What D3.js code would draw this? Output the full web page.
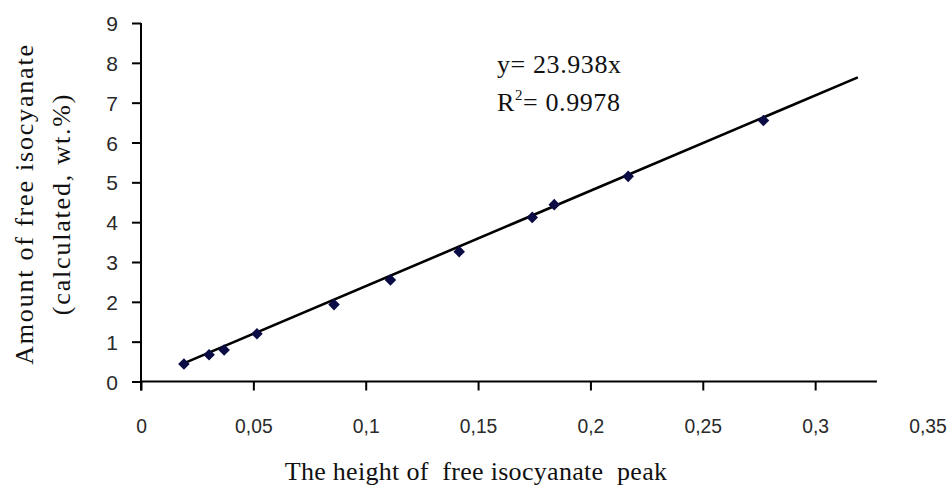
<!DOCTYPE html>
<html><head><meta charset="utf-8">
<script src="https://cdn.jsdelivr.net/npm/d3@7"></script>
<style>
html,body{margin:0;padding:0;background:#fff;}
svg{display:block;}
.tick text{font-family:"Liberation Sans",Arial,sans-serif;font-size:21px;fill:#2a2a2a;}
.serif{font-family:"Liberation Serif","Times New Roman",serif;fill:#111;}
</style></head>
<body>
<svg id="c" width="951" height="495"></svg>
<script>
// Data
const peakHeight = [0.0191, 0.0303, 0.037, 0.0516, 0.0859, 0.111, 0.1416, 0.1741, 0.1839, 0.2168, 0.277];
const isocyanate = [0.44, 0.67, 0.79, 1.20, 1.93, 2.55, 3.26, 4.12, 4.44, 5.15, 6.55];
const slope = 23.938;
const r2 = 0.9978;
const trendRange = [0.019, 0.319];
const xTicks = [0, 0.05, 0.1, 0.15, 0.2, 0.25, 0.3, 0.35];
const yTicks = [0, 1, 2, 3, 4, 5, 6, 7, 8, 9];
const xAxisEnd = 0.3275;

const svg = d3.select("#c");
const x = d3.scaleLinear().domain([0, 0.35]).range([141, 927.5]);
const y = d3.scaleLinear().domain([0, 9]).range([381.5, 23]);
const fmt = d => String(d).replace(".", ",");

// X axis
const gx = svg.append("g").attr("transform", `translate(0,${y(0)})`)
  .call(d3.axisBottom(x).tickValues(xTicks).tickFormat(fmt).tickSizeInner(9).tickSizeOuter(0).tickPadding(28));
gx.select(".domain").remove();
gx.selectAll(".tick line").attr("stroke", "#000").attr("stroke-width", 2)
  .filter(d => d > xAxisEnd).remove();
gx.selectAll(".tick text").attr("transform", "scale(0.92,1)").attr("x", function(d){ return 0; });
gx.append("line").attr("x1", x(0)).attr("x2", x(xAxisEnd)).attr("y1", 0).attr("y2", 0)
  .attr("stroke", "#000").attr("stroke-width", 2);

// Y axis
const gy = svg.append("g").attr("transform", `translate(${x(0)},0)`)
  .call(d3.axisLeft(y).tickValues(yTicks).tickSizeInner(9).tickSizeOuter(0).tickPadding(14));
gy.select(".domain").remove();
gy.selectAll(".tick line").attr("stroke", "#000").attr("stroke-width", 2);
gy.append("line").attr("x1", 0).attr("x2", 0).attr("y1", y(9)).attr("y2", y(0) + 9)
  .attr("stroke", "#000").attr("stroke-width", 2);
gy.selectAll(".tick text").attr("dy", "0.36em");

// Trendline
const line = d3.line().x(d => x(d)).y(d => y(slope * d));
svg.append("path").datum(trendRange).attr("d", line)
  .attr("fill", "none").attr("stroke", "#000").attr("stroke-width", 2.6);

// Points (diamonds)
svg.append("g").selectAll("path").data(peakHeight).join("path")
  .attr("d", d3.symbol(d3.symbolDiamond2 || d3.symbolDiamond, 85))
  .attr("transform", (d, i) => `translate(${x(d)},${y(isocyanate[i])})`)
  .attr("fill", "#0b0b45");

// Equation annotation
svg.append("text").attr("class", "serif").attr("x", 497).attr("y", 73)
  .attr("font-size", 26).attr("letter-spacing", 0.6).text(`y= ${slope}x`);
const rt = svg.append("text").attr("class", "serif").attr("x", 497).attr("y", 111)
  .attr("font-size", 26).attr("letter-spacing", 0.6);
rt.append("tspan").text("R");
rt.append("tspan").attr("font-size", 15).attr("dy", -11).text("2");
rt.append("tspan").attr("dy", 11).text(`= ${r2}`);

// Axis titles
svg.append("text").attr("class", "serif").attr("x", 476).attr("y", 480)
  .attr("text-anchor", "middle").attr("font-size", 26).attr("letter-spacing", 0.3)
  .style("white-space", "pre")
  .text("The height of  free isocyanate  peak");
const yt = svg.append("text").attr("class", "serif").attr("transform", "translate(33,204) rotate(-90)")
  .attr("text-anchor", "middle").attr("font-size", 26).attr("letter-spacing", 1.8);
yt.append("tspan").attr("x", 0).attr("y", 0).text("Amount of free isocyanate");
yt.append("tspan").attr("x", 0).attr("y", 37).text("(calculated, wt.%)");
</script>
</body></html>
